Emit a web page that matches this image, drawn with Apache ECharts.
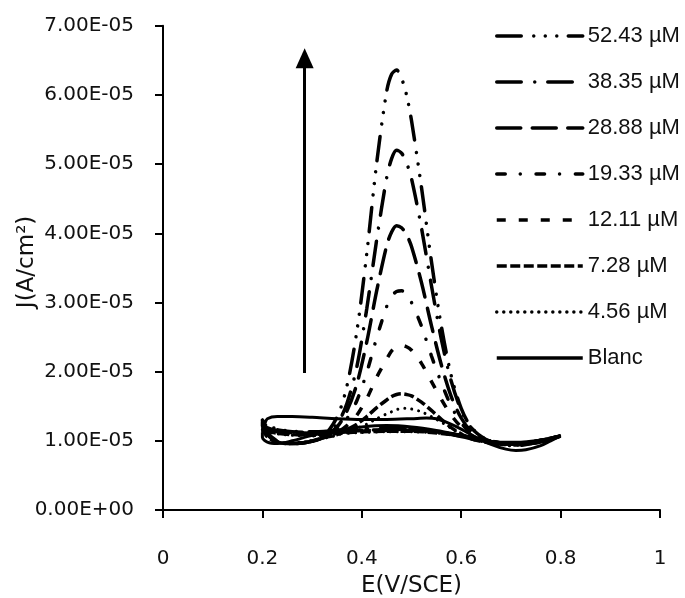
<!DOCTYPE html>
<html>
<head>
<meta charset="utf-8">
<script src="https://cdn.jsdelivr.net/npm/echarts@6/dist/echarts.min.js"></script>
<style>
html,body{margin:0;padding:0;background:#fff;}
#c{width:685px;height:598px;}
</style>
</head>
<body>
<div id="c"></div>
<script>
// Current density values are in units of 1e-5 A/cm²
const yTickLabels = ['0.00E+00','1.00E-05','2.00E-05','3.00E-05','4.00E-05','5.00E-05','6.00E-05','7.00E-05'];
const xTickLabels = ['0','0.2','0.4','0.6','0.8','1'];

const seriesNames = ['52.43 µM','38.35 µM','28.88 µM','19.33 µM','12.11 µM','7.28 µM','4.56 µM','Blanc'];

// potentials (V/SCE): forward scan and return scan
const E_fwd = [0.20,0.21,0.23,0.26,0.29,0.32,0.35,0.37,0.39,0.41,0.43,0.45,0.46,0.47,0.48,0.49,0.50,0.52,0.54,0.56,0.58,0.60,0.62,0.65,0.68,0.71,0.74,0.77,0.80];
const E_ret = [0.77,0.74,0.71,0.68,0.65,0.62,0.58,0.54,0.50,0.45,0.40,0.35,0.30,0.26,0.23,0.21,0.20];

const J52_fwd = [1.30,1.12,1.00,0.97,0.99,1.05,1.34,1.79,2.58,3.71,5.02,6.05,6.30,6.36,6.24,6.00,5.63,4.67,3.60,2.66,1.94,1.47,1.20,1.02,0.96,0.95,0.98,1.02,1.07];
const J52_ret = [1.01,0.96,0.93,0.94,0.98,1.03,1.09,1.14,1.17,1.18,1.17,1.15,1.13,1.14,1.17,1.23,1.30];

const J38_fwd = [1.27,1.10,0.99,0.96,0.98,1.04,1.24,1.54,2.07,2.91,3.91,4.80,5.08,5.20,5.16,5.02,4.79,4.08,3.25,2.47,1.86,1.44,1.19,1.02,0.96,0.95,0.98,1.02,1.07];
const J38_ret = [1.00,0.96,0.94,0.95,0.99,1.04,1.10,1.14,1.16,1.17,1.16,1.14,1.12,1.13,1.16,1.21,1.27];

const J28_fwd = [1.24,1.09,0.99,0.96,0.98,1.04,1.20,1.43,1.82,2.43,3.17,3.82,4.02,4.11,4.08,3.98,3.81,3.29,2.67,2.10,1.64,1.33,1.14,1.01,0.96,0.95,0.98,1.02,1.07];
const J28_ret = [1.00,0.96,0.94,0.96,1.00,1.05,1.10,1.14,1.16,1.16,1.15,1.13,1.11,1.12,1.15,1.19,1.24];

const J19_fwd = [1.22,1.08,0.98,0.96,0.98,1.04,1.16,1.32,1.58,1.99,2.49,2.94,3.09,3.16,3.17,3.11,3.00,2.66,2.23,1.84,1.50,1.26,1.11,1.00,0.96,0.95,0.98,1.02,1.07];
const J19_ret = [1.01,0.97,0.95,0.96,1.00,1.05,1.10,1.14,1.15,1.16,1.15,1.13,1.10,1.11,1.14,1.18,1.22];

const J12_fwd = [1.20,1.07,0.98,0.96,0.98,1.04,1.12,1.22,1.37,1.61,1.92,2.18,2.30,2.36,2.38,2.36,2.31,2.12,1.86,1.60,1.37,1.20,1.08,0.99,0.96,0.95,0.98,1.02,1.07];
const J12_ret = [1.01,0.97,0.95,0.97,1.01,1.05,1.10,1.13,1.15,1.15,1.14,1.12,1.09,1.10,1.13,1.16,1.20];

const J7_fwd = [1.18,1.06,0.98,0.96,0.98,1.04,1.09,1.16,1.24,1.35,1.48,1.59,1.64,1.67,1.68,1.67,1.65,1.56,1.44,1.31,1.19,1.10,1.03,0.98,0.96,0.95,0.98,1.02,1.07];
const J7_ret = [1.01,0.97,0.95,0.97,1.01,1.05,1.09,1.12,1.14,1.14,1.13,1.11,1.08,1.09,1.11,1.14,1.18];

const J4_fwd = [1.16,1.05,0.98,0.96,0.98,1.03,1.08,1.13,1.18,1.24,1.32,1.39,1.42,1.45,1.47,1.47,1.46,1.42,1.35,1.27,1.18,1.10,1.03,0.98,0.96,0.95,0.98,1.02,1.07];
const J4_ret = [1.01,0.97,0.95,0.97,1.01,1.05,1.09,1.12,1.13,1.13,1.12,1.10,1.07,1.08,1.10,1.13,1.16];

const EB_fwd = [0.20,0.205,0.21,0.23,0.26,0.30,0.35,0.40,0.45,0.50,0.53,0.55,0.57,0.60,0.63,0.66,0.69,0.71,0.73,0.76,0.78,0.80];
const JB_fwd = [1.12,1.25,1.32,1.35,1.35,1.34,1.32,1.31,1.31,1.32,1.33,1.32,1.27,1.17,1.05,0.95,0.88,0.86,0.87,0.93,1.00,1.07];
const EB_ret = [0.78,0.75,0.72,0.68,0.64,0.60,0.55,0.50,0.45,0.40,0.35,0.30,0.26,0.23,0.21,0.20,0.20];
const JB_ret = [1.04,1.00,0.98,0.98,1.02,1.08,1.15,1.20,1.22,1.20,1.15,1.08,1.00,0.96,0.98,1.05,1.12];

// arrow annotation (E, J)
const arrowE = 0.285, arrowFrom = 1.98, arrowTo = 6.53;

function zip(e, j) { return e.map((v, i) => [v, j[i]]); }
function loop(ef, jf, er, jr) { return zip(ef, jf).concat(zip(er, jr)); }

const curves = [
  loop(E_fwd, J52_fwd, E_ret, J52_ret),
  loop(E_fwd, J38_fwd, E_ret, J38_ret),
  loop(E_fwd, J28_fwd, E_ret, J28_ret),
  loop(E_fwd, J19_fwd, E_ret, J19_ret),
  loop(E_fwd, J12_fwd, E_ret, J12_ret),
  loop(E_fwd, J7_fwd, E_ret, J7_ret),
  loop(E_fwd, J4_fwd, E_ret, J4_ret),
  loop(EB_fwd, JB_fwd, EB_ret, JB_ret)
];

const styles = [
  {type:[24.5,12.5,0.01,11.5,0.01,11.5,0.01,11.5], cap:'round', width:3.5},
  {type:[24.5,13.5,0.01,13], cap:'round', width:3.5},
  {type:[24,11.5], cap:'round', width:3.5},
  {type:[8.5,15,0.01,15.8], cap:'round', width:3.5},
  {type:[9,13], cap:'butt', width:3.5},
  {type:[10,3.5], cap:'butt', width:3.5},
  {type:[0.01,7], cap:'round', width:3},
  {type:'solid', cap:'butt', width:3}
];

const series = seriesNames.map((name, i) => {
  const s = {
    name: name,
    type: 'line',
    data: curves[i],
    symbol: 'none',
    showSymbol: false,
    smooth: 0.3,
    animation: false,
    color: '#000',
    lineStyle: {color:'#000', width: styles[i].width, type: styles[i].type, cap: styles[i].cap}
  };
  if (name === 'Blanc') {
    s.markLine = {
      silent: true,
      animation: false,
      symbol: ['none','triangle'],
      symbolSize: [18, 20],
      label: {show:false},
      lineStyle: {color:'#000', width:3, type:'solid'},
      data: [[{coord:[arrowE, arrowFrom]}, {coord:[arrowE, arrowTo]}]]
    };
  }
  return s;
});

const chart = echarts.init(document.getElementById('c'), null, {renderer:'canvas'});
chart.setOption({
  animation: false,
  backgroundColor: '#fff',
  grid: {left:163, right:25, top:25.8, bottom:88, containLabel:false, outerBoundsMode:'none'},
  legend: {
    orient: 'vertical',
    left: 495,
    top: 25,
    padding: 0,
    itemWidth: 86,
    itemHeight: 14,
    itemGap: 24,
    data: seriesNames,
    lineStyle: {width: 3.5},
    itemStyle: {color:'rgba(0,0,0,0)', borderWidth:0, opacity:0},
    textStyle: {fontFamily:'Liberation Sans', fontSize:22, color:'#111'}
  },
  xAxis: {
    type: 'value', min: 0, max: 1, interval: 0.2,
    axisLine: {show:true, onZero:false, lineStyle:{color:'#000', width:2}},
    axisTick: {show:true, length:8, lineStyle:{color:'#000', width:2}},
    splitLine: {show:false},
    axisLabel: {margin: 39, fontFamily:'DejaVu Sans', fontSize:20, color:'#111',
      formatter: v => xTickLabels[Math.round(v * 5)]},
    name: 'E(V/SCE)', nameLocation: 'middle', nameGap: 65, nameMoveOverlap: false,
    nameTextStyle: {fontFamily:'DejaVu Sans', fontSize:23, color:'#111'}
  },
  yAxis: {
    type: 'value', min: 0, max: 7, interval: 1,
    axisLine: {show:true, onZero:false, lineStyle:{color:'#000', width:2}},
    axisTick: {show:true, length:8, lineStyle:{color:'#000', width:2}},
    splitLine: {show:false},
    axisLabel: {margin: 29, fontFamily:'DejaVu Sans', fontSize:20, color:'#111',
      formatter: v => yTickLabels[Math.round(v)]},
    name: 'J(A/cm²)', nameLocation: 'middle', nameGap: 124, nameRotate: 90, nameMoveOverlap: false,
    nameTextStyle: {fontFamily:'DejaVu Sans', fontSize:23, color:'#111', padding:[0,0,0,12]}
  },
  series: series
});
</script>
</body>
</html>
